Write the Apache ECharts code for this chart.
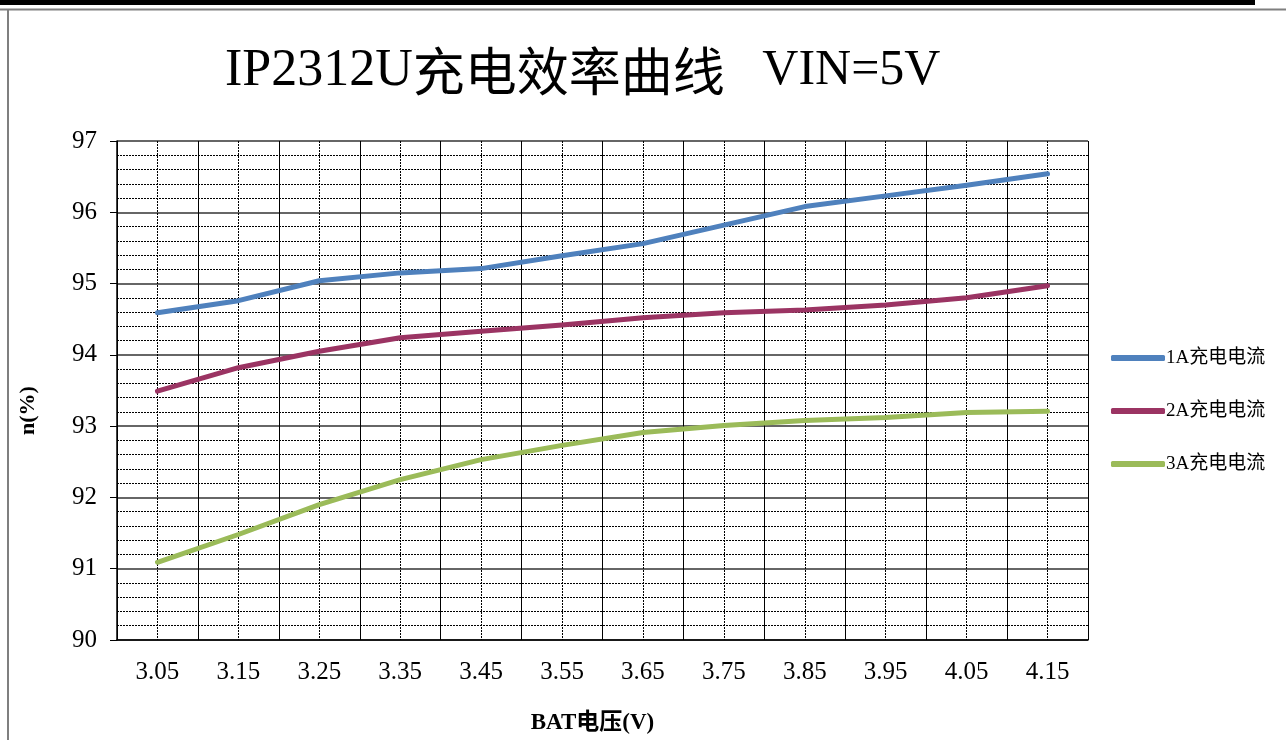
<!DOCTYPE html>
<html>
<head>
<meta charset="utf-8">
<script src="https://cdn.jsdelivr.net/npm/echarts@6/dist/echarts.min.js"></script>
<style>
html,body{margin:0;padding:0;background:#fff;}
#chart{width:1286px;height:740px;}
</style>
</head>
<body>
<div id="chart"></div>
<script>
// ---- data ----
const categories = ['3.05','3.15','3.25','3.35','3.45','3.55','3.65','3.75','3.85','3.95','4.05','4.15'];
const seriesNames = ['1A充电电流','2A充电电流','3A充电电流'];
const eff1A = [94.59, 94.76, 95.04, 95.15, 95.21, 95.39, 95.56, 95.82, 96.08, 96.23, 96.38, 96.54];
const eff2A = [93.49, 93.82, 94.05, 94.24, 94.33, 94.42, 94.52, 94.59, 94.63, 94.70, 94.80, 94.97];
const eff3A = [91.09, 91.48, 91.90, 92.25, 92.53, 92.73, 92.91, 93.01, 93.08, 93.12, 93.19, 93.21];
const yTicks = {min: 90, max: 97, step: 1};

const serif = '"Liberation Serif", "Noto Sans CJK SC", serif';
const colors = ['#4F81BD', '#9B3463', '#9BBB59'];

const chart = echarts.init(document.getElementById('chart'));
const dataArr = [eff1A, eff2A, eff3A];

chart.setOption({
  animation: false,
  backgroundColor: '#fff',
  graphic: [
    {type: 'rect', shape: {x: 0, y: 0, width: 1255, height: 5}, style: {fill: '#000'}},
    {type: 'line', shape: {x1: 0, y1: 9.5, x2: 1286, y2: 9.5}, style: {stroke: '#7f7f7f', lineWidth: 2}},
    {type: 'line', shape: {x1: 8, y1: 9, x2: 8, y2: 740}, style: {stroke: '#7f7f7f', lineWidth: 2}}
  ],
  title: {
    text: '{a|IP2312U}{b|充电效率曲线}{c|   VIN=5V}',
    left: 220,
    top: 40,
    textStyle: {
      rich: {
        a: {fontFamily: serif, fontSize: 52, color: '#000', fontWeight: 'normal'},
        b: {fontFamily: '"Noto Sans CJK SC", sans-serif', fontSize: 52, color: '#000', fontWeight: 'normal'},
        c: {fontFamily: serif, fontSize: 50, color: '#000', fontWeight: 'normal'}
      }
    }
  },
  legend: {
    orient: 'vertical',
    left: 1106,
    top: 343,
    itemWidth: 54,
    itemHeight: 6,
    itemGap: 33,
    icon: 'roundRect',
    textStyle: {fontFamily: serif, fontSize: 19, color: '#000', lineHeight: 20, padding: [0, 0, 0, -4]},
    data: seriesNames
  },
  grid: {left: 117, right: 198, top: 141, bottom: 99, containLabel: false},
  xAxis: [
    {
      type: 'category',
      data: categories,
      boundaryGap: true,
      axisLine: {show: true, lineStyle: {color: '#000', width: 1.5}},
      axisTick: {show: false},
      splitLine: {show: false},
      axisLabel: {fontFamily: serif, fontSize: 25, color: '#000', margin: 20},
      name: 'BAT电压(V)',
      nameLocation: 'middle',
      nameGap: 72,
      nameTextStyle: {fontFamily: serif, fontSize: 23, color: '#000', fontWeight: 'bold', padding: [0, 20, 0, 0]}
    },
    {
      type: 'value',
      min: 0,
      max: categories.length,
      interval: 1,
      position: 'bottom',
      axisLine: {show: false},
      axisTick: {show: false},
      axisLabel: {show: false},
      splitLine: {show: true, lineStyle: {color: '#000', width: 1}},
      minorTick: {show: false, splitNumber: 2},
      minorSplitLine: {show: true, lineStyle: {color: '#000', width: 1, type: [2, 1]}}
    }
  ],
  yAxis: {
    type: 'value',
    min: yTicks.min,
    max: yTicks.max,
    interval: yTicks.step,
    axisLine: {show: true, lineStyle: {color: '#000', width: 1.5}},
    axisTick: {show: true, length: 7, lineStyle: {color: '#000'}},
    axisLabel: {fontFamily: serif, fontSize: 25, color: '#000', margin: 20},
    splitLine: {show: true, lineStyle: {color: '#333', width: 1.6}},
    minorTick: {show: false, splitNumber: 5},
    minorSplitLine: {show: true, lineStyle: {color: '#000', width: 1, type: [2, 1]}},
    name: 'n(%)',
    nameLocation: 'middle',
    nameGap: 78,
    nameRotate: 90,
    nameTextStyle: {fontFamily: serif, fontSize: 22, color: '#000', fontWeight: 'bold', padding: [0, 40, 0, 0]}
  },
  series: seriesNames.map((n, i) => ({
    name: n,
    type: 'line',
    xAxisIndex: 0,
    data: dataArr[i],
    showSymbol: false,
    symbol: 'none',
    smooth: false,
    color: colors[i],
    lineStyle: {color: colors[i], width: 5, cap: 'round', join: 'round'},
    itemStyle: {color: colors[i]}
  }))
});
</script>
</body>
</html>
